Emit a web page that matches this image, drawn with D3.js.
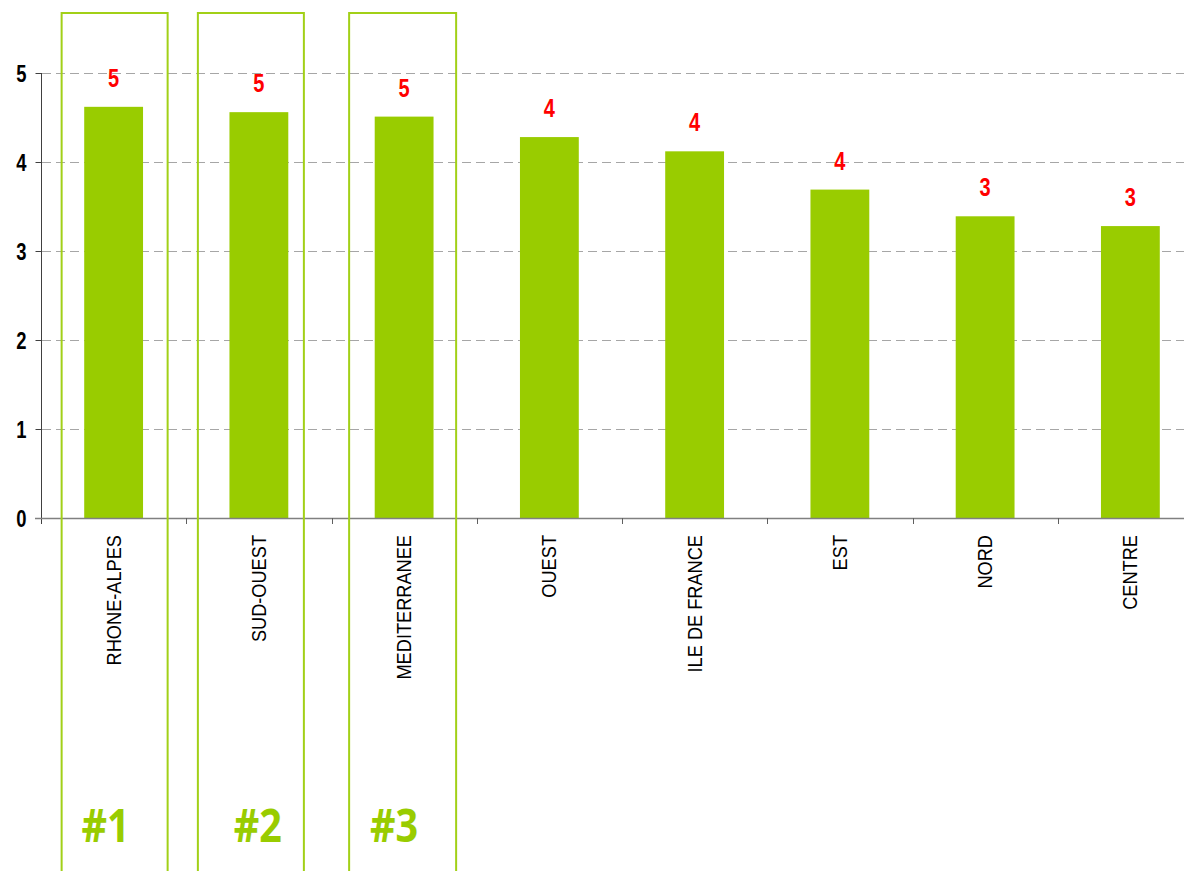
<!DOCTYPE html>
<html>
<head>
<meta charset="utf-8">
<script src="https://cdn.jsdelivr.net/npm/d3@7"></script>
<style>
  html, body { margin: 0; padding: 0; background: #fff; }
  svg { display: block; }
</style>
</head>
<body>
<svg id="chart" width="1184" height="871"></svg>
<script>
// ---- data ----
const categories = ["RHONE-ALPES", "SUD-OUEST", "MEDITERRANEE", "OUEST", "ILE DE FRANCE", "EST", "NORD", "CENTRE"];
const values = [4.62, 4.56, 4.51, 4.28, 4.12, 3.69, 3.39, 3.28];
const valueLabels = ["5", "5", "5", "4", "4", "4", "3", "3"];
const yTicks = [0, 1, 2, 3, 4, 5];
const highlighted = ["RHONE-ALPES", "SUD-OUEST", "MEDITERRANEE"];
const rankLabels = ["#1", "#2", "#3"];

(function () {
// ---- layout ----
const svg = d3.select("#chart");
const W = 1184, H = 871;
const pLeft = 41, pRight = 1203, pTop = 73, pBottom = 518;

const x = d3.scaleBand().domain(categories).range([pLeft, pRight]).paddingInner(0.595).paddingOuter(0.2975);
const xb = d3.scaleBand().domain(categories).range([pLeft, pRight]); // full bands for ticks
const y = d3.scaleLinear().domain([0, 5]).range([pBottom, pTop]);

const sans = "'Liberation Sans', Arial, sans-serif";
const green = "#99cc00";

// gridlines
svg.append("g").selectAll("line").data(yTicks.filter(d => d > 0)).join("line")
  .attr("x1", pLeft + 1).attr("x2", W)
  .attr("y1", d => Math.round(y(d)) + 0.5).attr("y2", d => Math.round(y(d)) + 0.5)
  .attr("stroke", "#a6a6a6").attr("stroke-width", 1).attr("stroke-dasharray", "9,5");

// bars
svg.append("g").selectAll("rect").data(categories).join("rect")
  .attr("x", d => x(d)).attr("width", x.bandwidth())
  .attr("y", (d, i) => y(values[i])).attr("height", (d, i) => y(0) - y(values[i]))
  .attr("fill", green);

// value labels (condensed look)
svg.append("g").selectAll("text").data(categories).join("text")
  .attr("transform", (d, i) => `translate(${x(d) + x.bandwidth() / 2},${y(values[i]) - 20}) scale(0.8,1)`)
  .attr("text-anchor", "middle")
  .attr("font-family", sans).attr("font-weight", "bold").attr("font-size", 25)
  .attr("fill", "#ff0000")
  .text((d, i) => valueLabels[i]);

// y axis
const yAxis = d3.axisLeft(y).tickValues(yTicks).tickSize(6).tickPadding(0).tickFormat(d3.format("d"));
const gy = svg.append("g").attr("transform", `translate(${pLeft + 0.5},0)`).call(yAxis);
gy.select(".domain").attr("stroke", "#404040").attr("d", `M0,${pTop}V${pBottom + 6}`);
gy.selectAll(".tick line").attr("stroke", "#404040");
gy.selectAll(".tick text")
  .attr("x", null).attr("dy", null)
  .attr("transform", "translate(-15,8) scale(0.8,1)")
  .attr("font-family", sans).attr("font-weight", "bold").attr("font-size", 23).attr("fill", "#000");

// x axis line
svg.append("line").attr("x1", 35).attr("x2", W).attr("y1", pBottom + 0.5).attr("y2", pBottom + 0.5)
  .attr("stroke", "#808080").attr("stroke-width", 1.5);

// category separator ticks
svg.append("g").selectAll("line").data(categories.slice(1)).join("line")
  .attr("x1", d => Math.round(xb(d)) + 0.5).attr("x2", d => Math.round(xb(d)) + 0.5)
  .attr("y1", pBottom).attr("y2", pBottom + 6)
  .attr("stroke", "#606060");

// category labels (rotated, slightly condensed)
svg.append("g").selectAll("text").data(categories).join("text")
  .attr("transform", d => `translate(${x(d) + x.bandwidth() / 2 + 7},${pBottom + 17}) rotate(-90) scale(0.91,1)`)
  .attr("text-anchor", "end")
  .attr("font-family", sans).attr("font-size", 20).attr("fill", "#000")
  .text(d => d);

// highlight boxes
const boxOffsets = [[-52, 54], [-61, 45], [-55, 52]];
const boxes = svg.append("g");
highlighted.forEach((c, i) => {
  const cx = x(c) + x.bandwidth() / 2;
  boxes.append("rect")
    .attr("x", cx + boxOffsets[i][0]).attr("y", 13)
    .attr("width", boxOffsets[i][1] - boxOffsets[i][0]).attr("height", H + 10)
    .attr("fill", "none").attr("stroke", "#a2d017").attr("stroke-width", 2);
  boxes.append("text")
    .attr("transform", `translate(${cx + [-8, -1, -10][i]},842) scale(0.86,1)`)
    .attr("text-anchor", "middle")
    .attr("font-family", "'Open Sans', 'Liberation Sans', sans-serif").attr("font-weight", "bold").attr("font-size", 46)
    .attr("fill", "#99cc00")
    .text(rankLabels[i]);
});
})();
</script>
</body>
</html>
